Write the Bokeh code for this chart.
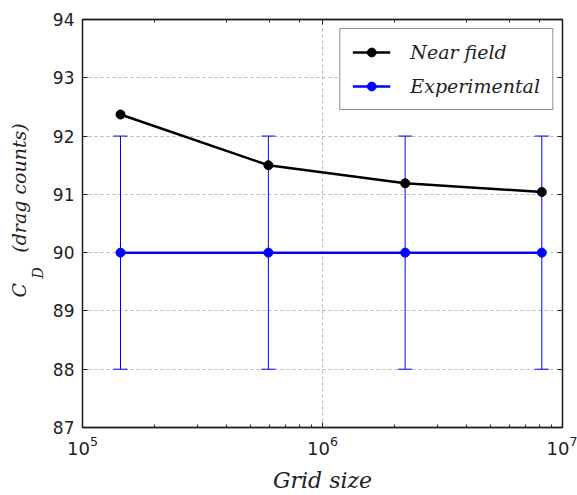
from bokeh.plotting import figure
from bokeh.models import (ColumnDataSource, Whisker, TeeHead, Legend, LegendItem,
                          Title, LogAxis, LinearAxis, FixedTicker, CustomJSTickFormatter)
from bokeh.embed import file_html
from bokeh.resources import INLINE

# Drag coefficient vs. grid size
grid_size = [1.44e5, 5.95e5, 2.21e6, 8.2e6]
near_field = [92.37, 91.50, 91.19, 91.04]
experimental = [90.0, 90.0, 90.0, 90.0]
exp_error = [2.0, 2.0, 2.0, 2.0]
y_ticks = [87, 88, 89, 90, 91, 92, 93, 94]

MATH_FONT = "DejaVu Serif"
TICK_FONT = "DejaVu Sans"
INK = "#222222"
NBSP = "\u00a0"

src_near = ColumnDataSource(dict(x=grid_size, y=near_field))
src_exp = ColumnDataSource(dict(
    x=grid_size, y=experimental,
    lower=[v - e for v, e in zip(experimental, exp_error)],
    upper=[v + e for v, e in zip(experimental, exp_error)],
))

p = figure(width=577, height=495, x_axis_type="log",
           x_range=(1e5, 1e7), y_range=(87, 94),
           output_backend="svg", toolbar_location=None,
           min_border_left=82, min_border_right=15,
           min_border_top=19, min_border_bottom=68)
p.background_fill_color = "white"
p.border_fill_color = "white"
p.outline_line_color = INK
p.outline_line_width = 1.3

bottom_axis = p.below[0]
left_axis = p.left[0]
left_axis.ticker = FixedTicker(ticks=y_ticks)

# extra axes on top and right carry inward ticks only
blank = CustomJSTickFormatter(code="return ''")
top_axis = LogAxis(formatter=blank)
right_axis = LinearAxis(ticker=FixedTicker(ticks=y_ticks), formatter=blank)
p.add_layout(top_axis, "above")
p.add_layout(right_axis, "right")

for ax in (bottom_axis, left_axis, top_axis, right_axis):
    ax.axis_line_color = INK
    ax.axis_line_width = 1.3
    ax.major_tick_in = 5
    ax.major_tick_out = 0
    ax.minor_tick_in = 3
    ax.minor_tick_out = 0
    ax.major_tick_line_color = INK
    ax.minor_tick_line_color = INK
    ax.major_label_text_font = TICK_FONT
    ax.major_label_text_font_size = "17px"
    ax.major_label_text_color = INK

bottom_axis.major_label_text_font_size = "18px"
for ax in (left_axis, right_axis):
    ax.minor_tick_line_color = None

for ax in (top_axis, right_axis):
    ax.major_label_standoff = 0

bottom_axis.major_label_standoff = 8
left_axis.major_label_standoff = 8

bottom_axis.axis_label = "Grid size"
bottom_axis.axis_label_text_font = MATH_FONT
bottom_axis.axis_label_text_font_style = "italic"
bottom_axis.axis_label_text_font_size = "22px"
bottom_axis.axis_label_text_color = INK
bottom_axis.axis_label_standoff = 10

# y-axis title C_D (drag counts): subscript in its own column next to the axis
sub_title = Title(text="D", text_font=MATH_FONT, text_font_style="italic",
                  text_font_size="14px", text_color=INK, align="left",
                  offset=149, standoff=7)
main_title = Title(text="C" + NBSP * 5 + "(drag counts)", text_font=MATH_FONT,
                   text_font_style="italic", text_font_size="19px",
                   text_color=INK, align="left", offset=130, standoff=-11)
p.add_layout(sub_title, "left")
p.add_layout(main_title, "left")

# grid
p.xgrid.grid_line_color = "#b8b8b8"
p.ygrid.grid_line_color = "#b8b8b8"
p.xgrid.grid_line_dash = "3 3"
p.ygrid.grid_line_dash = "3 3"
p.xgrid.grid_line_width = 1
p.ygrid.grid_line_width = 1

# error bars
whisk = Whisker(base="x", lower="lower", upper="upper", source=src_exp,
                line_color="#0000ff", line_width=1,
                upper_head=TeeHead(size=14, line_color="#0000ff", line_width=1),
                lower_head=TeeHead(size=14, line_color="#0000ff", line_width=1),
                level="underlay")
p.add_layout(whisk)

# experimental series
exp_line = p.line("x", "y", source=src_exp, line_color="#0000ff", line_width=2.5)
exp_pts = p.scatter("x", "y", source=src_exp, marker="circle", size=9,
                    fill_color="#0000ff", line_color="#0000ff")

# near-field series
near_line = p.line("x", "y", source=src_near, line_color="black", line_width=2.5)
near_pts = p.scatter("x", "y", source=src_near, marker="circle", size=9,
                     fill_color="black", line_color="black")

legend = Legend(items=[
    LegendItem(label="Near field", renderers=[near_line, near_pts]),
    LegendItem(label="Experimental", renderers=[exp_line, exp_pts]),
], location="top_right")
legend.margin = 9
legend.padding = 12
legend.spacing = 12
legend.glyph_width = 38
legend.glyph_height = 22
legend.label_standoff = 20
legend.label_text_font = MATH_FONT
legend.label_text_font_style = "italic"
legend.label_text_font_size = "19px"
legend.label_text_color = INK
legend.border_line_color = INK
legend.border_line_width = 1.2
legend.background_fill_color = "white"
legend.background_fill_alpha = 1.0
p.add_layout(legend)

open("out.html", "w").write(file_html(p, INLINE))
